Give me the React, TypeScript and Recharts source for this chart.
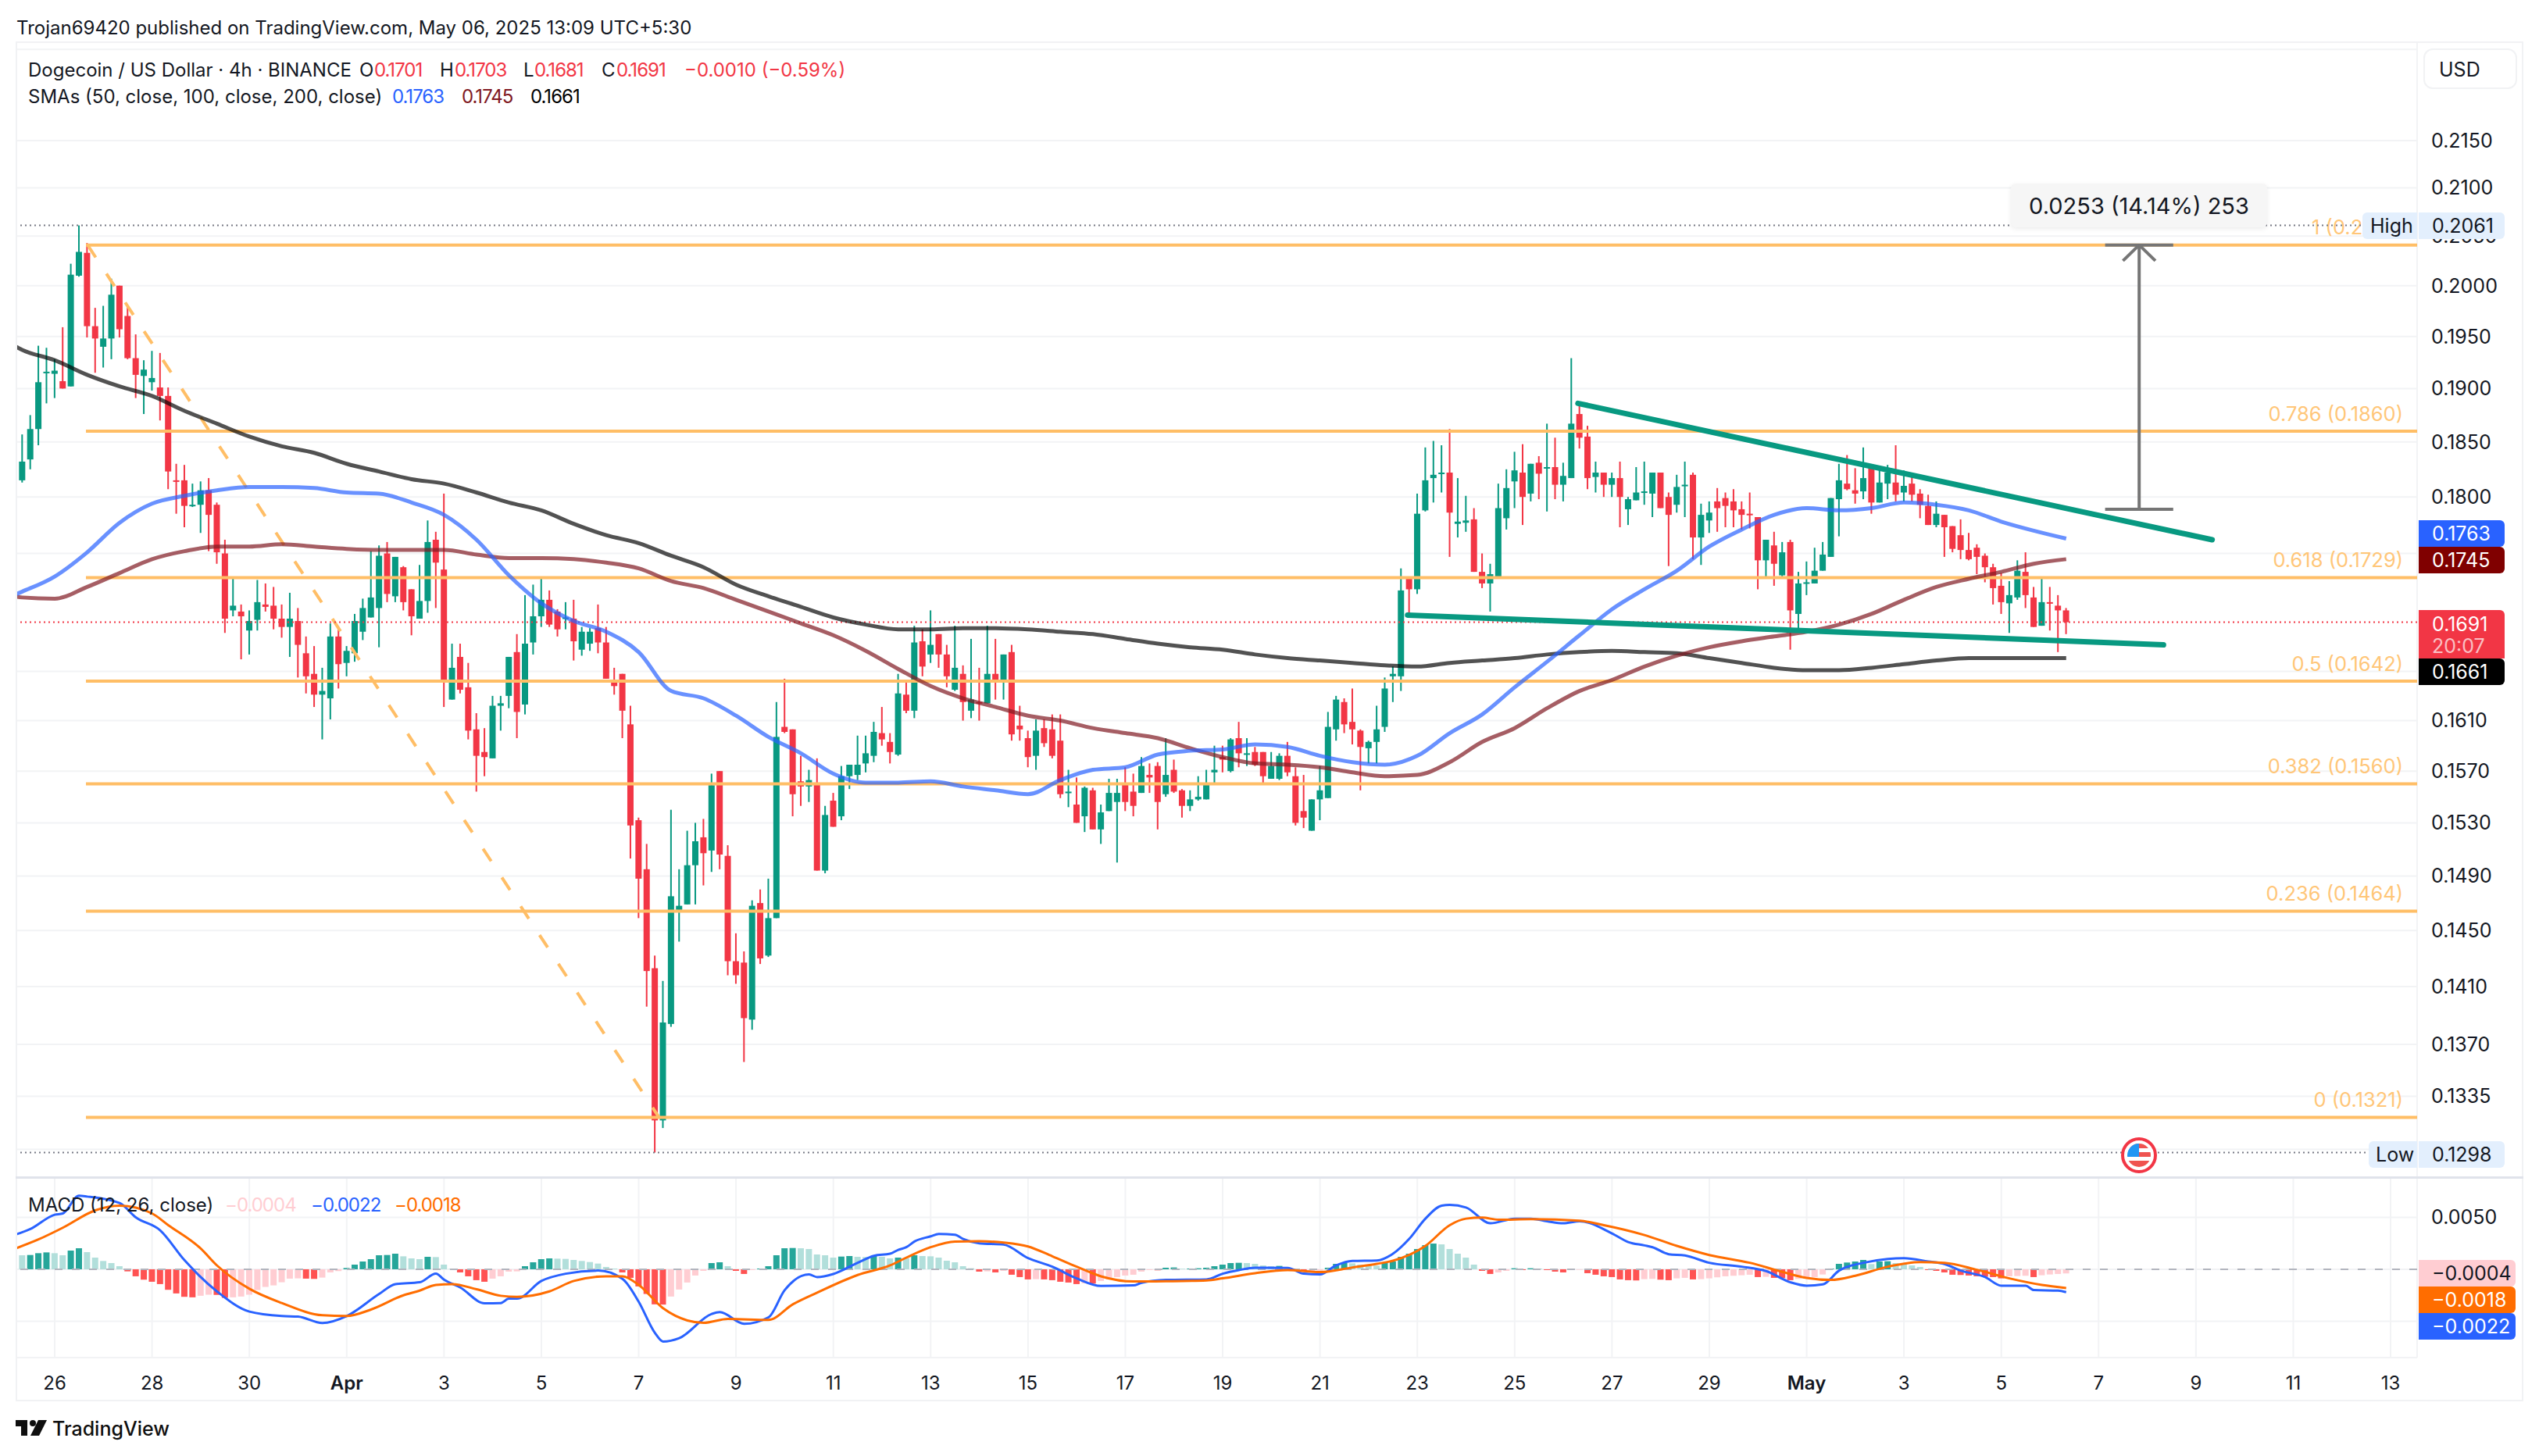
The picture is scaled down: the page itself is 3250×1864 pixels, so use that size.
// Dogecoin / USD 4h chart with SMAs, fib levels and MACD pane
import React from "react";
import {
  ComposedChart,
  Bar,
  Line,
  Cell,
  XAxis,
  YAxis,
  CartesianGrid,
  ReferenceLine,
} from "recharts";

// candles run from index -5 to 248, index 0 is the 26 Mar session
const firstCandle = -5;

const opens = [
  0.1827,0.1815,0.1834,0.1862,0.1915,0.1914,0.1907,0.1902,0.2010,0.2033,
  0.1960,0.1940,0.1948,0.2000,0.1970,0.1929,0.1912,0.1906,0.1901,0.1893,
  0.1815,0.1815,0.1792,0.1793,0.1806,0.1793,0.1750,0.1701,0.1700,0.1684,
  0.1693,0.1706,0.1705,0.1694,0.1687,0.1692,0.1665,0.1648,0.1631,0.1628,
  0.1679,0.1657,0.1665,0.1683,0.1695,0.1703,0.1750,0.1713,0.1738,0.1719,
  0.1694,0.1709,0.1762,0.1736,0.1627,0.1662,0.1637,0.1603,0.1585,0.1580,
  0.1622,0.1630,0.1666,0.1623,0.1674,0.1696,0.1710,0.1700,0.1694,0.1694,
  0.1668,0.1673,0.1686,0.1674,0.1641,0.1648,0.1607,0.1532,0.1495,0.1423,
  0.1319,0.1384,0.1465,0.1469,0.1498,0.1519,0.1509,0.1570,0.1505,0.1428,
  0.1427,0.1387,0.1470,0.1432,0.1459,0.1605,0.1603,0.1562,0.1558,0.1561,
  0.1494,0.1547,0.1535,0.1566,0.1567,0.1576,0.1582,0.1600,0.1593,0.1583,
  0.1631,0.1618,0.1675,0.1664,0.1681,0.1664,0.1635,0.1648,0.1618,0.1625,
  0.1624,0.1648,0.1641,0.1666,0.1606,0.1596,0.1582,0.1604,0.1603,0.1594,
  0.1553,0.1544,0.1535,0.1555,0.1525,0.1539,0.1546,0.1560,0.1554,0.1553,
  0.1567,0.1574,0.1552,0.1571,0.1555,0.1543,0.1548,0.1548,0.1569,0.1581,
  0.1570,0.1596,0.1583,0.1585,0.1585,0.1564,0.1564,0.1582,0.1566,0.1539,
  0.1524,0.1548,0.1549,0.1603,0.1625,0.1609,0.1602,0.1588,0.1593,0.1605,
  0.1646,0.1646,0.1730,0.1719,0.1788,0.1817,0.1821,0.1822,0.1776,0.1777,
  0.1780,0.1734,0.1724,0.1728,0.1781,0.1814,0.1822,0.1803,0.1831,0.1826,
  0.1827,0.1811,0.1817,0.1876,0.1855,0.1818,0.1822,0.1811,0.1817,0.1789,
  0.1797,0.1804,0.1803,0.1822,0.1800,0.1793,0.1810,0.1820,0.1764,0.1779,
  0.1796,0.1799,0.1796,0.1789,0.1785,0.1782,0.1744,0.1757,0.1731,0.1760,
  0.1698,0.1724,0.1724,0.1735,0.1747,0.1798,0.1812,0.1806,0.1805,0.1826,
  0.1795,0.1812,0.1813,0.1804,0.1812,0.1803,0.1792,0.1775,0.1784,0.1774,
  0.1766,0.1753,0.1755,0.1748,0.1738,0.1722,0.1707,0.1712,0.1734,0.1712,
  0.1688,0.1708,0.1705,0.1701,
];

const highs = [
  0.1840,0.1857,0.1875,0.1941,0.1939,0.1928,0.1959,0.2022,0.2061,0.2043,
  0.1978,0.1980,0.2007,0.2000,0.1979,0.1952,0.1927,0.1936,0.1934,0.1901,
  0.1830,0.1829,0.1812,0.1814,0.1817,0.1795,0.1762,0.1730,0.1706,0.1701,
  0.1727,0.1724,0.1721,0.1706,0.1716,0.1703,0.1679,0.1671,0.1653,0.1690,
  0.1685,0.1671,0.1698,0.1711,0.1752,0.1757,0.1760,0.1747,0.1739,0.1719,
  0.1740,0.1779,0.1769,0.1803,0.1673,0.1673,0.1657,0.1616,0.1604,0.1630,
  0.1630,0.1662,0.1681,0.1714,0.1723,0.1730,0.1718,0.1702,0.1708,0.1710,
  0.1687,0.1686,0.1706,0.1687,0.1653,0.1648,0.1622,0.1534,0.1514,0.1432,
  0.1414,0.1540,0.1495,0.1524,0.1530,0.1533,0.1568,0.1570,0.1513,0.1448,
  0.1435,0.1472,0.1480,0.1488,0.1625,0.1644,0.1603,0.1582,0.1571,0.1580,
  0.1543,0.1553,0.1574,0.1575,0.1598,0.1598,0.1609,0.1621,0.1600,0.1648,
  0.1643,0.1688,0.1685,0.1701,0.1681,0.1672,0.1688,0.1655,0.1677,0.1653,
  0.1688,0.1677,0.1664,0.1672,0.1622,0.1602,0.1611,0.1611,0.1615,0.1615,
  0.1571,0.1565,0.1558,0.1557,0.1544,0.1564,0.1564,0.1573,0.1568,0.1581,
  0.1576,0.1577,0.1596,0.1579,0.1556,0.1555,0.1566,0.1571,0.1590,0.1590,
  0.1596,0.1609,0.1596,0.1589,0.1585,0.1585,0.1584,0.1593,0.1573,0.1567,
  0.1548,0.1574,0.1617,0.1630,0.1628,0.1636,0.1603,0.1594,0.1622,0.1645,
  0.1654,0.1737,0.1730,0.1803,0.1845,0.1851,0.1847,0.1862,0.1817,0.1801,
  0.1790,0.1750,0.1741,0.1812,0.1825,0.1841,0.1848,0.1830,0.1837,0.1867,
  0.1854,0.1831,0.1929,0.1885,0.1865,0.1832,0.1822,0.1822,0.1832,0.1800,
  0.1827,0.1832,0.1822,0.1822,0.1804,0.1820,0.1832,0.1822,0.1794,0.1796,
  0.1808,0.1804,0.1807,0.1796,0.1804,0.1782,0.1762,0.1769,0.1760,0.1762,
  0.1734,0.1743,0.1755,0.1760,0.1799,0.1830,0.1838,0.1826,0.1845,0.1829,
  0.1825,0.1829,0.1847,0.1824,0.1821,0.1807,0.1802,0.1796,0.1784,0.1774,
  0.1780,0.1768,0.1758,0.1750,0.1741,0.1733,0.1726,0.1744,0.1751,0.1721,
  0.1728,0.1721,0.1714,0.1703,
];

const lows = [
  0.1812,0.1813,0.1825,0.1847,0.1886,0.1891,0.1900,0.1902,0.2009,0.1949,
  0.1915,0.1920,0.1928,0.1949,0.1928,0.1891,0.1876,0.1898,0.1870,0.1807,
  0.1785,0.1773,0.1791,0.1768,0.1752,0.1741,0.1682,0.1696,0.1660,0.1664,
  0.1684,0.1700,0.1685,0.1678,0.1662,0.1645,0.1632,0.1621,0.1595,0.1611,
  0.1636,0.1646,0.1658,0.1676,0.1695,0.1670,0.1708,0.1708,0.1701,0.1680,
  0.1694,0.1699,0.1703,0.1621,0.1627,0.1632,0.1595,0.1554,0.1566,0.1580,
  0.1602,0.1620,0.1596,0.1615,0.1664,0.1687,0.1687,0.1679,0.1685,0.1659,
  0.1663,0.1667,0.1665,0.1644,0.1631,0.1596,0.1503,0.1459,0.1396,0.1298,
  0.1314,0.1382,0.1442,0.1469,0.1469,0.1483,0.1493,0.1495,0.1418,0.1412,
  0.1358,0.1380,0.1426,0.1431,0.1459,0.1600,0.1535,0.1543,0.1546,0.1494,
  0.1492,0.1527,0.1532,0.1556,0.1563,0.1569,0.1577,0.1590,0.1576,0.1582,
  0.1616,0.1612,0.1646,0.1657,0.1653,0.1637,0.1634,0.1610,0.1612,0.1610,
  0.1624,0.1627,0.1627,0.1594,0.1594,0.1573,0.1571,0.1589,0.1580,0.1549,
  0.1542,0.1530,0.1523,0.1525,0.1514,0.1539,0.1500,0.1539,0.1535,0.1553,
  0.1553,0.1525,0.1550,0.1553,0.1534,0.1539,0.1547,0.1548,0.1560,0.1569,
  0.1569,0.1573,0.1574,0.1574,0.1560,0.1564,0.1563,0.1566,0.1528,0.1526,
  0.1524,0.1532,0.1549,0.1594,0.1600,0.1591,0.1555,0.1576,0.1576,0.1601,
  0.1625,0.1634,0.1698,0.1715,0.1787,0.1795,0.1804,0.1747,0.1764,0.1769,
  0.1734,0.1720,0.1700,0.1728,0.1771,0.1790,0.1775,0.1796,0.1798,0.1787,
  0.1798,0.1796,0.1817,0.1844,0.1807,0.1804,0.1800,0.1800,0.1773,0.1775,
  0.1797,0.1793,0.1782,0.1790,0.1739,0.1786,0.1782,0.1745,0.1740,0.1768,
  0.1769,0.1773,0.1773,0.1771,0.1772,0.1719,0.1728,0.1722,0.1730,0.1668,
  0.1685,0.1714,0.1724,0.1735,0.1747,0.1765,0.1806,0.1794,0.1798,0.1785,
  0.1795,0.1798,0.1796,0.1796,0.1796,0.1781,0.1775,0.1773,0.1747,0.1751,
  0.1745,0.1744,0.1732,0.1725,0.1706,0.1698,0.1682,0.1710,0.1703,0.1687,
  0.1688,0.1684,0.1666,0.1681,
];

const closes = [
  0.1814,0.1832,0.1862,0.1906,0.1916,0.1917,0.1900,0.2011,0.2034,0.1960,
  0.1948,0.1948,0.1991,0.1957,0.1929,0.1913,0.1918,0.1910,0.1893,0.1823,
  0.1814,0.1792,0.1793,0.1806,0.1784,0.1751,0.1694,0.1705,0.1696,0.1692,
  0.1708,0.1704,0.1694,0.1687,0.1694,0.1672,0.1646,0.1631,0.1634,0.1679,
  0.1656,0.1667,0.1692,0.1703,0.1712,0.1748,0.1715,0.1747,0.1708,0.1696,
  0.1709,0.1760,0.1742,0.1643,0.1653,0.1635,0.1602,0.1582,0.1581,0.1622,
  0.1624,0.1662,0.1617,0.1673,0.1696,0.1710,0.1689,0.1685,0.1695,0.1675,
  0.1683,0.1683,0.1674,0.1644,0.1638,0.1618,0.1528,0.1488,0.1421,0.1319,
  0.1385,0.1475,0.1468,0.1498,0.1516,0.1507,0.1559,0.1506,0.1428,0.1418,
  0.1388,0.1468,0.1430,0.1459,0.1597,0.1601,0.1552,0.1558,0.1563,0.1494,
  0.1536,0.1527,0.1566,0.1575,0.1575,0.1584,0.1601,0.1595,0.1585,0.1632,
  0.1618,0.1674,0.1654,0.1672,0.1664,0.1646,0.1653,0.1625,0.1627,0.1624,
  0.1648,0.1641,0.1664,0.1599,0.1603,0.1581,0.1602,0.1592,0.1582,0.1552,
  0.1554,0.1530,0.1557,0.1525,0.1538,0.1553,0.1553,0.1546,0.1543,0.1574,
  0.1565,0.1546,0.1567,0.1554,0.1543,0.1548,0.1550,0.1560,0.1571,0.1579,
  0.1595,0.1584,0.1584,0.1575,0.1566,0.1574,0.1582,0.1569,0.1530,0.1534,
  0.1548,0.1555,0.1605,0.1627,0.1607,0.1603,0.1589,0.1593,0.1603,0.1636,
  0.1648,0.1718,0.1719,0.1785,0.1815,0.1820,0.1822,0.1786,0.1778,0.1779,
  0.1734,0.1724,0.1732,0.1790,0.1808,0.1824,0.1800,0.1830,0.1821,0.1827,
  0.1811,0.1819,0.1867,0.1854,0.1817,0.1822,0.1811,0.1817,0.1800,0.1798,
  0.1804,0.1805,0.1822,0.1790,0.1784,0.1809,0.1811,0.1764,0.1784,0.1786,
  0.1790,0.1792,0.1788,0.1784,0.1784,0.1744,0.1762,0.1741,0.1751,0.1701,
  0.1724,0.1725,0.1735,0.1749,0.1799,0.1815,0.1807,0.1803,0.1817,0.1795,
  0.1813,0.1822,0.1802,0.1810,0.1802,0.1793,0.1775,0.1785,0.1773,0.1754,
  0.1753,0.1745,0.1747,0.1738,0.1720,0.1708,0.1714,0.1735,0.1714,0.1687,
  0.1708,0.1707,0.1701,0.1691,
];

// moving averages, read every 4th candle
const smaIndex = [
  -5,-4,0,4,8,12,16,20,24,28,32,36,40,44,48,52,56,60,64,68,72,76,80,84,88,92,96,100,
  104,108,112,116,120,124,128,132,136,140,144,148,152,156,160,164,168,172,176,180,
  184,188,192,196,200,204,208,212,216,220,224,228,232,236,240,244,248,
];
const sma50 = [
  0.1714,0.1717,0.1730,0.1751,0.1777,0.1794,0.1801,0.1806,0.1809,0.1809,0.1808,0.1804,0.1803,0.1795,0.1784,0.1762,
  0.1731,0.1707,0.1692,0.1683,0.1666,0.1634,0.1628,0.1614,0.1597,0.1584,0.1568,0.1561,0.1561,0.1562,0.1558,0.1555,
  0.1552,0.1563,0.1571,0.1573,0.1583,0.1586,0.1587,0.1591,0.1589,0.1582,0.1577,0.1575,0.1582,0.1600,0.1615,0.1637,
  0.1658,0.1680,0.1702,0.1719,0.1735,0.1756,0.1771,0.1784,0.1790,0.1788,0.1790,0.1795,0.1793,0.1788,0.1778,0.1770,0.1763,
];
const sma100 = [
  0.1713,0.1712,0.1711,0.1721,0.1733,0.1745,0.1752,0.1756,0.1756,0.1758,0.1756,0.1754,0.1753,0.1753,0.1753,0.1749,
  0.1746,0.1746,0.1745,0.1742,0.1737,0.1726,0.1720,0.1710,0.1700,0.1690,0.1680,0.1667,0.1652,0.1638,0.1628,0.1621,
  0.1614,0.1610,0.1604,0.1600,0.1596,0.1588,0.1581,0.1576,0.1575,0.1573,0.1569,0.1566,0.1567,0.1577,0.1593,0.1604,
  0.1620,0.1634,0.1643,0.1654,0.1663,0.1670,0.1675,0.1679,0.1683,0.1689,0.1698,0.1710,0.1721,0.1728,0.1734,0.1741,0.1745,
];
const sma200 = [
  0.1941,0.1937,0.1927,0.1913,0.1902,0.1893,0.1879,0.1867,0.1855,0.1846,0.1840,0.1830,0.1823,0.1816,0.1812,0.1804,
  0.1795,0.1788,0.1776,0.1766,0.1759,0.1748,0.1738,0.1723,0.1713,0.1704,0.1695,0.1689,0.1685,0.1685,0.1686,0.1686,
  0.1685,0.1683,0.1681,0.1677,0.1673,0.1670,0.1668,0.1664,0.1661,0.1659,0.1657,0.1655,0.1654,0.1657,0.1659,0.1661,
  0.1664,0.1666,0.1667,0.1666,0.1665,0.1661,0.1657,0.1653,0.1651,0.1651,0.1653,0.1656,0.1659,0.1661,0.1661,0.1661,0.1661,
];

// MACD pane, in units of 0.0001
const macdHist = [
  13.75,13.5,13.75,15.5,16.25,15.5,13.5,18,20.25,16.5,11.25,8,6,3,-2,-6.75,-10,-12,-14.25,-19.75,
  -23.25,-26.5,-27,-25.5,-24.5,-24.75,-27.5,-27,-26.25,-24.5,-20,-17,-15.5,-12.5,-9,-8.75,-9,-9.25,-8,-3,
  -1.75,1.25,4.5,7.5,9.75,13.5,13.75,15,12.5,10.5,9.75,12,11.75,4.5,0.5,-3,-6.75,-10.5,-12,-9,
  -6.75,-2.25,-2,3,6.75,9.75,10.5,10.25,10,9,8,7,5.5,2.25,0.75,-3,-8.25,-16.5,-23.75,-33.75,
  -34,-26.25,-19.5,-12.75,-6,-1.5,6,6.75,3,-1.5,-4.5,-0.75,0.75,3,13.5,20.25,20.5,20.25,19.5,14.25,
  13.5,11.25,12.25,12.75,12,11.75,12.75,12,10.5,11.25,10.5,13.5,12.75,12.5,11.25,8.25,6.75,3,1,-2.25,
  -2,-3,-1.5,-5.25,-7.5,-9.75,-9.5,-9.75,-10.5,-12,-12.75,-14.25,-13.5,-13.75,-11.25,-9.75,-7.5,-6,-5.25,-2.25,
  -0.75,-1,1.5,1.75,0.5,0.75,1,1.5,3,4.5,6,6.25,6,5.25,3.75,3,3.25,1.5,-1.5,-2.25,
  -1.5,-1.25,1.5,5.25,6,5.75,4.5,3.75,3.5,6.75,7.5,12,15,19.5,23.25,24.75,24,19.5,15,11.25,
  4.5,-1.5,-4.5,-3,-1.5,1,-0.75,1,0.75,-0.75,-2.25,-3,-0.75,-0.5,-3.75,-5.25,-6.75,-7.5,-9.75,-10.5,
  -10.75,-9.5,-9.25,-10,-10.5,-8.75,-8.25,-9.75,-9.5,-8.75,-7.75,-6.75,-6.25,-5.75,-5.25,-7.5,-7.25,-8.25,-8.5,-10.5,
  -9.25,-8.75,-7.5,-5,0.75,5.25,6.5,7.5,9,5,7.5,7.75,6,4.75,3.75,2.25,-0.75,-1.5,-3,-5.25,
  -5.5,-6,-6.75,-7.25,-7.5,-8.75,-6.75,-6.5,-6.25,-7.5,-5.75,-5,-4.5,-4,
];
const macdIndex = [
  -5,-3,0,1,3,4,8,10,13,16,20,24,28,30,33,36,40,42,45,47,48,50,53,55,56,57,60,63,67,70,72,74,75,77,81,82,85,88,90,93,94,96,99,
  101,103,104,105,106,108,109,111,112,114,117,120,123,126,129,133,134,137,142,144,146,148,152,154,156,158,160,163,165,167,169,171,172,174,177,180,182,184,186,188,192,194,196,
  197,199,201,204,208,211,214,216,218,220,223,226,228,231,233,235,238,240,243,244,247,248,
];
const macdLine = [
  33,38.75,52.5,53.75,70.75,70,63.75,50,37.5,8.75,-21.25,-40.75,-45,-45.5,-51.75,-45,-23.75,-14.25,-12.5,-4.25,-10,-17.5,-32.75,-32.5,-28.25,-28.25,-11.25,-4.25,-1.25,-9.25,-31.25,-61.25,-69.5,-66.25,-43,-41.25,-52.5,-46.25,-20,-5,-7.5,-4.5,6.25,
  13,15,18.75,21.25,26.75,31.75,34,33.25,29.25,25,23.75,10.75,2.5,-8.75,-16,-15.5,-13,-10.25,-9.75,-4.25,-0.75,1.5,1.25,-4.25,-5,3.75,8,8.5,15,29.25,48.75,61.25,62,59.5,44.25,48.75,48.75,46.25,44.25,46.25,34.5,26.25,23,
  21.25,14.5,13.25,6.25,2.5,-1.75,-12.5,-15.75,-14.5,-1.25,6.25,10,10.75,7.5,5,-1.25,-7.5,-15.75,-15.75,-20,-20.5,-22,
];
const signalIndex = [
  -5,-2,1,5,8,12,14,18,20,24,28,33,36,39,43,45,47,49,52,55,57,61,64,68,70,72,75,78,80,83,88,91,94,99,
  103,105,108,111,114,117,120,123,126,129,133,137,142,144,148,152,156,160,163,165,169,172,174,176,178,182,188,191,196,
  200,204,209,213,216,219,222,226,230,233,237,241,245,248,
];
const signalLine = [
  19.5,28.75,40,56.75,61.25,53.75,42.5,20,3.75,-18.75,-32.5,-44.25,-45,-38.75,-25,-20.5,-15,-14.25,-19.25,-25.5,-26.5,-21.25,-11.25,-6.75,-6.75,-15,-37.5,-49.25,-51.5,-47.75,-48.75,-33.75,-22.5,-5.5,
  3.75,11.25,21.25,26.75,27,25.75,22,12.5,2.5,-6.75,-11.75,-11.5,-10.75,-8.75,-3.75,-0.75,-2.75,1.75,5.25,8.25,22.5,42.5,48.75,49.75,47.75,48.25,46.75,42.5,33,
  22.5,13.75,6.25,-2.5,-8.25,-10.25,-6.25,2.5,7,6.25,-0.5,-8.75,-15,-18,
];

// axes
const xTicks = [0,12,24,36,48,60,72,84,96,108,120,132,144,156,168,180,192,204,216,228,240,252,264,276,288];
const xLabels = ["26","28","30","Apr","3","5","7","9","11","13","15","17","19","21","23","25","27","29","May","3","5","7","9","11","13"];
const priceTicks = [0.225,0.215,0.21,0.205,0.2,0.195,0.19,0.185,0.18,0.175,0.165,0.161,0.157,0.153,0.149,0.145,0.141,0.137,0.1335,0.13];
const macdTicks = [-0.005,0,0.005];

// drawings
const fibRatios = ["1","0.786","0.618","0.5","0.382","0.236","0"];
const fibPrices = [0.2041,0.186,0.1729,0.1642,0.156,0.1464,0.1321];

const GREEN = "#089981";
const RED = "#f23645";
const FIB = "#ffbe66";
const TOOL = "#757575";
const FONT = "Inter, sans-serif";
const INK = "#131722";

const xDomain: [number, number] = [-4.82, 291.27];
const priceDomain: [number, number] = [0.12822, 0.22591];
const macdDomain: [number, number] = [-0.0085, 0.00887];

const candleRows = opens.map((o, k) => ({
  i: firstCandle + k,
  o,
  h: highs[k],
  l: lows[k],
  c: closes[k],
  range: [lows[k], highs[k]],
}));
const sma50Rows = smaIndex.map((i, k) => ({ i, v: sma50[k] }));
const sma100Rows = smaIndex.map((i, k) => ({ i, v: sma100[k] }));
const sma200Rows = smaIndex.map((i, k) => ({ i, v: sma200[k] }));
const histRows = macdHist.map((v, k) => ({ i: firstCandle + k, hist: v / 10000 }));
const macdRows = macdIndex.map((i, k) => ({ i, v: macdLine[k] / 10000 }));
const signalRows = signalIndex.map((i, k) => ({ i, v: signalLine[k] / 10000 }));

function histColor(k: number) {
  const v = macdHist[k];
  const prev = k > 0 ? macdHist[k - 1] : v;
  if (v >= 0) return v >= prev ? "#26a69a" : "#b2dfdb";
  return v <= prev ? "#ff5252" : "#ffcdd2";
}

// wick and body of one candle, the bar itself spans low to high on the log axis
function Candle(props: any) {
  const { x, y, width, height, payload } = props;
  if (!payload || payload.h == null) return null;
  const { o, h, l, c } = payload;
  const top = Math.min(y, y + height);
  const span = Math.abs(height);
  const at = (v: number) => top + (span * Math.log(h / v)) / Math.log(h / l);
  const color = c >= o ? GREEN : RED;
  const cx = x + width / 2;
  const bodyTop = at(Math.max(o, c));
  const bodyH = Math.max(at(Math.min(o, c)) - bodyTop, 2);
  return (
    <g>
      <rect x={cx - 1} y={top} width={2} height={span} fill={color} />
      <rect x={cx - 4} y={bodyTop} width={8} height={bodyH} fill={color} />
    </g>
  );
}

function fibLabel(text: string) {
  return (props: any) => {
    const vb = props.viewBox;
    return (
      <text x={vb.x + vb.width - 18} y={vb.y - 23} fill="#ffc678" fontSize={25.5} fontFamily={FONT} textAnchor="end" dominantBaseline="central">
        {text}
      </text>
    );
  };
}

function TimeTick(props: any) {
  const { x, y, payload } = props;
  const label = xLabels[payload.value / 12];
  const bold = label === "Apr" || label === "May";
  return (
    <text x={x} y={y + 30} fill={INK} fontSize={24} fontFamily={FONT} fontWeight={bold ? 600 : 400} textAnchor="middle" dominantBaseline="central">
      {label}
    </text>
  );
}

function Txt({ x, y, size = 24, color = INK, weight = 400, spacing = 0, children }: any) {
  return (
    <div style={{ position: "absolute", left: x, top: y - 20, height: 40, lineHeight: "40px", fontSize: size, color, fontWeight: weight, letterSpacing: spacing, fontFamily: FONT, whiteSpace: "nowrap" }}>
      {children}
    </div>
  );
}

function Badge({ x, y, w, h, bg, color = "#fff", text, radius = "0 6px 6px 0", pad = 17 }: any) {
  return (
    <div style={{ position: "absolute", left: x, top: y, width: w, height: h, background: bg, color, borderRadius: radius, fontFamily: FONT, fontSize: 25, lineHeight: `${h}px`, paddingLeft: pad, boxSizing: "border-box", whiteSpace: "nowrap" }}>
      {text}
    </div>
  );
}

function Flag() {
  return (
    <svg style={{ position: "absolute", left: 2714, top: 1455 }} width={48} height={48} viewBox="0 0 48 48">
      <defs>
        <clipPath id="flagClip">
          <circle cx={24} cy={24} r={15} />
        </clipPath>
      </defs>
      <circle cx={24} cy={24} r={21} fill="#fff" stroke={RED} strokeWidth={4} />
      <g clipPath="url(#flagClip)">
        <rect x={9} y={9} width={30} height={30} fill="#fff" />
        <rect x={9} y={9} width={30} height={6} fill="#ef5350" />
        <rect x={24} y={20} width={15} height={6} fill="#ef5350" />
        <rect x={9} y={31} width={30} height={8} fill="#ef5350" />
        <rect x={9} y={9} width={15} height={17} fill="#2196f3" />
      </g>
    </svg>
  );
}

function Logo() {
  return (
    <svg style={{ position: "absolute", left: 20, top: 1818 }} width={40} height={20} viewBox="0 0 40 20">
      <path d="M0 0H15V20H7V8H0Z M29 0H40L30 20H19Z" fill="#0f0f0f" />
      <circle cx={22} cy={4} r={4} fill="#0f0f0f" />
    </svg>
  );
}

export default function App() {
  return (
    <div style={{ position: "absolute", left: 0, top: 0, width: 3250, height: 1864, background: "#fff", overflow: "hidden" }}>
      <Txt x={21} y={36}>Trojan69420 published on TradingView.com, May 06, 2025 13:09 UTC+5:30</Txt>

      <div style={{ position: "absolute", left: 20, top: 53 }}>
        <ComposedChart width={3210} height={1454} data={candleRows} margin={{ top: 0, right: 0, bottom: 0, left: 0 }}>
          <CartesianGrid stroke="#f2f3f5" strokeWidth={2} />
          <XAxis dataKey="i" type="number" domain={xDomain} ticks={xTicks} allowDataOverflow height={0} tick={false} axisLine={false} tickLine={false} />
          <YAxis
            orientation="right"
            width={136}
            scale="log"
            domain={priceDomain}
            ticks={priceTicks}
            allowDataOverflow
            interval={0}
            axisLine={false}
            tickLine={false}
            tickSize={0}
            tickMargin={18}
            tick={{ fill: INK, fontSize: 25, fontFamily: FONT }}
            tickFormatter={(v: number) => (v === 0.225 ? "" : v.toFixed(4))}
          />
          {fibPrices.map((p, k) => (
            <ReferenceLine
              key={p}
              segment={[{ x: 3.85, y: p }, { x: xDomain[1], y: p }]}
              stroke={FIB}
              strokeWidth={4}
              label={fibLabel(`${fibRatios[k]} (${p.toFixed(4)})`)}
            />
          ))}
          <ReferenceLine segment={[{ x: 4.05, y: 0.2041 }, { x: 74.5, y: 0.1321 }]} stroke={FIB} strokeWidth={4} strokeDasharray="19 25" />
          <ReferenceLine segment={[{ x: xDomain[0], y: 0.2061 }, { x: 284.5, y: 0.2061 }]} stroke="#787b86" strokeWidth={2} strokeDasharray="2 4" />
          <ReferenceLine segment={[{ x: xDomain[0], y: 0.1298 }, { x: 285.3, y: 0.1298 }]} stroke="#787b86" strokeWidth={2} strokeDasharray="2 4" />
          <ReferenceLine segment={[{ x: xDomain[0], y: 0.1691 }, { x: xDomain[1], y: 0.1691 }]} stroke={RED} strokeWidth={2} strokeDasharray="2 4" />
          <Bar dataKey="range" barSize={8} shape={Candle} isAnimationActive={false} />
          <Line data={sma200Rows} dataKey="v" type="monotone" stroke="#000" strokeOpacity={0.68} strokeWidth={5} dot={false} isAnimationActive={false} />
          <Line data={sma100Rows} dataKey="v" type="monotone" stroke="#801922" strokeOpacity={0.7} strokeWidth={5} dot={false} isAnimationActive={false} />
          <Line data={sma50Rows} dataKey="v" type="monotone" stroke="#2962ff" strokeOpacity={0.7} strokeWidth={5} dot={false} isAnimationActive={false} />
          <ReferenceLine segment={[{ x: 187.8, y: 0.1886 }, { x: 266, y: 0.1762 }]} stroke={GREEN} strokeWidth={7} strokeLinecap="round" />
          <ReferenceLine segment={[{ x: 166.8, y: 0.1697 }, { x: 260, y: 0.1672 }]} stroke={GREEN} strokeWidth={7} strokeLinecap="round" />
          <ReferenceLine segment={[{ x: 257, y: 0.1789 }, { x: 257, y: 0.2041 }]} stroke={TOOL} strokeWidth={4} />
          <ReferenceLine segment={[{ x: 252.8, y: 0.1789 }, { x: 261.2, y: 0.1789 }]} stroke={TOOL} strokeWidth={4} />
          <ReferenceLine segment={[{ x: 252.8, y: 0.2041 }, { x: 261.2, y: 0.2041 }]} stroke={TOOL} strokeWidth={4} />
          <ReferenceLine segment={[{ x: 255, y: 0.2025 }, { x: 257, y: 0.2041 }]} stroke={TOOL} strokeWidth={4} />
          <ReferenceLine segment={[{ x: 259, y: 0.2025 }, { x: 257, y: 0.2041 }]} stroke={TOOL} strokeWidth={4} />
        </ComposedChart>
      </div>

      <div style={{ position: "absolute", left: 20, top: 1507 }}>
        <ComposedChart width={3210} height={287} data={histRows} margin={{ top: 0, right: 0, bottom: 0, left: 0 }}>
          <CartesianGrid stroke="#f2f3f5" strokeWidth={2} />
          <XAxis
            dataKey="i"
            type="number"
            domain={xDomain}
            ticks={xTicks}
            allowDataOverflow
            interval={0}
            height={56}
            axisLine={false}
            tickLine={false}
            tickSize={0}
            tick={TimeTick}
          />
          <YAxis
            orientation="right"
            width={136}
            domain={macdDomain}
            ticks={macdTicks}
            allowDataOverflow
            interval={0}
            axisLine={false}
            tickLine={false}
            tickSize={0}
            tickMargin={18}
            tick={{ fill: INK, fontSize: 25, fontFamily: FONT }}
            tickFormatter={(v: number) => v.toFixed(4)}
          />
          <ReferenceLine y={0} stroke="#b2b5be" strokeWidth={2} strokeDasharray="10 12" />
          <Bar dataKey="hist" barSize={8} isAnimationActive={false}>
            {histRows.map((r, k) => (
              <Cell key={r.i} fill={histColor(k)} />
            ))}
          </Bar>
          <Line data={macdRows} dataKey="v" type="monotone" stroke="#2962ff" strokeWidth={3} dot={false} isAnimationActive={false} />
          <Line data={signalRows} dataKey="v" type="monotone" stroke="#ff6d00" strokeWidth={3} dot={false} isAnimationActive={false} />
        </ComposedChart>
      </div>

      {/* frame and pane divider */}
      <div style={{ position: "absolute", left: 20, top: 53, width: 3210, height: 1741, border: "2px solid #f1f2f4", boxSizing: "border-box" }} />
      <div style={{ position: "absolute", left: 20, top: 1506, width: 3210, height: 3, background: "#e0e3eb" }} />

      {/* legend */}
      <Txt x={36} y={90}>Dogecoin / US Dollar · 4h · BINANCE</Txt>
      <Txt x={460} y={90}>O</Txt>
      <Txt x={479} y={90} color={RED} spacing={-1}>0.1701</Txt>
      <Txt x={563} y={90}>H</Txt>
      <Txt x={582} y={90} color={RED} spacing={-1}>0.1703</Txt>
      <Txt x={670} y={90}>L</Txt>
      <Txt x={684} y={90} color={RED} spacing={-1}>0.1681</Txt>
      <Txt x={770} y={90}>C</Txt>
      <Txt x={789} y={90} color={RED} spacing={-1}>0.1691</Txt>
      <Txt x={876} y={90} color={RED}>−0.0010 (−0.59%)</Txt>
      <Txt x={36} y={124}>SMAs (50, close, 100, close, 200, close)</Txt>
      <Txt x={502} y={124} color="#2962ff" spacing={-1}>0.1763</Txt>
      <Txt x={591} y={124} color="#801922" spacing={-1}>0.1745</Txt>
      <Txt x={679} y={124} color="#000" spacing={-1}>0.1661</Txt>
      <Txt x={36} y={1543}>MACD (12, 26, close)</Txt>
      <Txt x={288} y={1543} color="#ffcdd2" spacing={-1}>−0.0004</Txt>
      <Txt x={398} y={1543} color="#2962ff" spacing={-1}>−0.0022</Txt>
      <Txt x={505} y={1543} color="#ff6d00" spacing={-1}>−0.0018</Txt>

      {/* measure label */}
      <div style={{ position: "absolute", left: 2574, top: 235, width: 328, height: 56, background: "#f6f6f6", borderRadius: 6, boxShadow: "0 2px 6px rgba(0,0,0,0.08)", fontFamily: FONT, fontSize: 29, lineHeight: "58px", textAlign: "center", color: INK }}>
        0.0253 (14.14%) 253
      </div>

      {/* price scale */}
      <div style={{ position: "absolute", left: 3102, top: 62, width: 120, height: 52, border: "2px solid #f1f2f4", borderRadius: 12, boxSizing: "border-box", background: "#fff", fontFamily: FONT, fontSize: 25, lineHeight: "50px", paddingLeft: 18, color: INK }}>
        USD
      </div>
      <Badge x={3024} y={272} w={70} h={34} bg="#e3effd" color={INK} text="High" radius="6px 0 0 6px" pad={10} />
      <Badge x={3096} y={272} w={110} h={34} bg="#e3effd" color={INK} text="0.2061" />
      <Badge x={3096} y={666} w={110} h={34} bg="#2962ff" text="0.1763" />
      <Badge x={3096} y={700} w={110} h={34} bg="#800000" text="0.1745" />
      <div style={{ position: "absolute", left: 3096, top: 781, width: 110, height: 62, background: RED, borderRadius: "0 6px 0 0", color: "#fff", fontFamily: FONT, fontSize: 25, paddingLeft: 17, boxSizing: "border-box", lineHeight: "28px", paddingTop: 4 }}>
        <div>0.1691</div>
        <div style={{ color: "rgba(255,255,255,0.7)" }}>20:07</div>
      </div>
      <Badge x={3096} y={843} w={110} h={34} bg="#000" text="0.1661" />
      <Badge x={3032} y={1461} w={62} h={34} bg="#e3effd" color={INK} text="Low" radius="6px 0 0 6px" pad={9} />
      <Badge x={3096} y={1461} w={110} h={34} bg="#e3effd" color={INK} text="0.1298" />
      <Badge x={3096} y={1613} w={124} h={34} bg="#ffcdd2" color={INK} text="−0.0004" />
      <Badge x={3096} y={1647} w={124} h={34} bg="#ff6d00" text="−0.0018" />
      <Badge x={3096} y={1681} w={124} h={34} bg="#2962ff" text="−0.0022" />

      <Flag />
      <Logo />
      <Txt x={67} y={1829} size={25} color="#0f0f0f" weight={500}>TradingView</Txt>
    </div>
  );
}
